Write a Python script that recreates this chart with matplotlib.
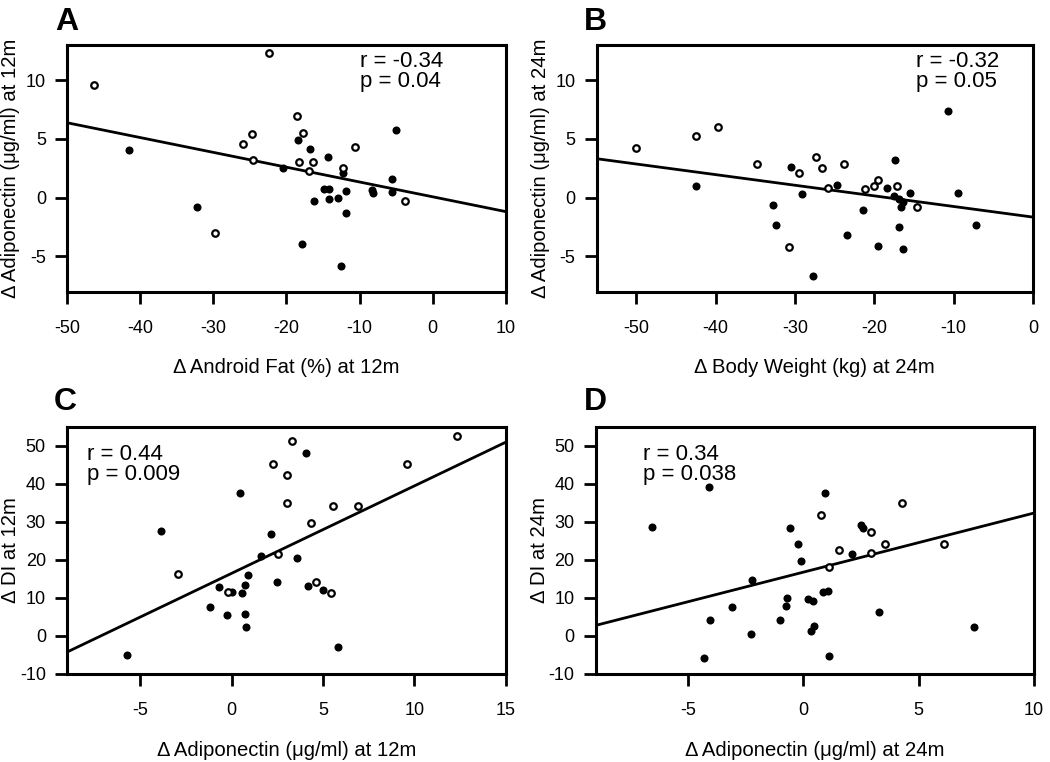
import matplotlib
matplotlib.use("Agg")
import matplotlib.pyplot as plt
import numpy as np

plt.rcParams['font.family'] = ['Liberation Sans', 'DejaVu Sans']
plt.rcParams['axes.unicode_minus'] = False

# ---------------- Panel A ----------------
a_open_x = [-46.35, -22.4, -25.9, -24.7, -24.6, -29.8, -18.5, -17.76, -10.6, -18.3, -16.4, -16.9, -12.2, -3.76]
a_open_y = [9.56, 12.28, 4.56, 5.39, 3.2, -3.0, 6.92, 5.53, 4.31, 3.03, 3.03, 2.26, 2.55, -0.29]
a_fill_x = [-41.5, -32.2, -18.4, -16.8, -14.3, -5.08, -20.45, -12.2, -14.8, -14.2, -11.9, -8.3, -8.2,
            -5.5, -5.5, -16.25, -14.2, -12.9, -11.9, -17.85, -12.55]
a_fill_y = [4.03, -0.8, 4.94, 4.14, 3.51, 5.79, 2.49, 2.13, 0.77, 0.73, 0.54, 0.62, 0.43,
            1.56, 0.48, -0.29, -0.12, -0.06, -1.28, -3.97, -5.79]
a_fit = (0.08, -0.126)  # intercept, slope

# ---------------- Panel B ----------------
b_open_x = [-50.0, -42.5, -39.7, -34.8, -29.5, -30.7, -27.35, -26.55, -23.8, -25.9, -21.2, -20.1, -19.6, -17.2, -14.6]
b_open_y = [4.26, 5.22, 6.01, 2.89, 2.1, -4.17, 3.49, 2.49, 2.89, 0.85, 0.71, 0.99, 1.5, 0.99, -0.8]
b_fill_x = [-42.45, -30.5, -29.1, -32.8, -32.35, -24.7, -17.35, -10.75, -18.4, -17.5, -16.9, -16.4,
            -15.5, -16.7, -9.5, -21.4, -7.2, -23.4, -16.9, -19.6, -16.4, -27.7]
b_fill_y = [0.99, 2.58, 0.28, -0.6, -2.33, 1.05, 3.2, 7.37, 0.85, 0.14, -0.14, -0.34,
            0.39, -0.8, 0.39, -1.08, -2.36, -3.18, -2.5, -4.14, -4.4, -6.64]
b_fit = (-1.65, -0.0904)

# ---------------- Panel C ----------------
c_open_x = [-2.96, 2.26, 2.53, -0.19, 3.28, 3.04, 3.04, 5.54, 6.91, 9.58, 12.31, 4.32, 4.63, 5.42]
c_open_y = [16.4, 45.3, 21.6, 11.5, 51.2, 42.2, 35.0, 34.2, 34.2, 45.1, 52.5, 29.8, 14.3, 11.2]
c_fill_x = [-3.87, -5.72, 0.47, 2.15, 1.59, 0.91, 2.48, -0.70, 0.74, 0.0, 0.58, -1.21, -0.26,
            0.71, 0.78, 4.08, 3.59, 4.17, 4.98, 5.83]
c_fill_y = [27.5, -4.9, 37.7, 26.9, 21.1, 16.1, 14.2, 12.9, 13.3, 11.5, 11.4, 7.6, 5.6,
            5.9, 2.4, 48.2, 20.5, 13.2, 12.2, -2.9]
c_fit = (16.47, 2.297)

# ---------------- Panel D ----------------
d_open_x = [0.75, 4.30, 2.93, 3.56, 6.09, 1.54, 2.94, 1.09]
d_open_y = [31.7, 35.0, 27.4, 24.3, 24.3, 22.5, 21.8, 18.1]
d_fill_x = [-6.59, -4.11, -4.07, -4.32, -3.10, -2.23, -2.27, -0.56, -0.24, -0.11, -0.71, -0.75, -1.0,
            0.21, 0.31, 0.93, 2.52, 2.57, 2.13, 0.86, 1.06, 0.43, 3.28, 0.45, 7.41, 1.10]
d_fill_y = [28.6, 39.1, 4.3, -5.8, 7.6, 14.6, 0.6, 28.4, 24.1, 19.8, 10.1, 7.8, 4.3,
            9.6, 1.3, 37.7, 29.1, 28.5, 21.5, 11.5, 11.7, 9.2, 6.3, 2.5, 2.4, -5.2]
d_fit = (16.77, 1.553)

panel_letters = ['A', 'B', 'C', 'D']
stat_texts = [('r = -0.34', 'p = 0.04'), ('r = -0.32', 'p = 0.05'),
              ('r = 0.44', 'p = 0.009'), ('r = 0.34', 'p = 0.038')]
xlabels = ['\u0394 Android Fat (%) at 12m', '\u0394 Body Weight (kg) at 24m',
           '\u0394 Adiponectin (\u03bcg/ml) at 12m', '\u0394 Adiponectin (\u03bcg/ml) at 24m']
ylabels = ['\u0394 Adiponectin (\u03bcg/ml) at 12m', '\u0394 Adiponectin (\u03bcg/ml) at 24m',
           '\u0394 DI at 12m', '\u0394 DI at 24m']
xticks = [[-50, -40, -30, -20, -10, 0, 10], [-50, -40, -30, -20, -10, 0],
          [-5, 0, 5, 10, 15], [-5, 0, 5, 10]]
yticks = [[-5, 0, 5, 10], [-5, 0, 5, 10],
          [-10, 0, 10, 20, 30, 40, 50], [-10, 0, 10, 20, 30, 40, 50]]
xlims = [(-50, 10), (-55, 0), (-9, 15), (-9, 10)]
ylims = [(-8, 13), (-8, 13), (-10, 55), (-10, 55)]

opens = [(a_open_x, a_open_y), (b_open_x, b_open_y), (c_open_x, c_open_y), (d_open_x, d_open_y)]
fills = [(a_fill_x, a_fill_y), (b_fill_x, b_fill_y), (c_fill_x, c_fill_y), (d_fill_x, d_fill_y)]
fits = [a_fit, b_fit, c_fit, d_fit]

positions = [[0.0641, 0.6172, 0.4175, 0.3237],
             [0.5683, 0.6172, 0.4155, 0.3237],
             [0.0641, 0.1155, 0.4175, 0.3245],
             [0.5676, 0.1155, 0.4170, 0.3245]]
text_x = [0.668, 0.732, 0.044, 0.108]
text_y = [(0.912, 0.831), (0.912, 0.831), (0.865, 0.784), (0.865, 0.784)]
letter_pos = [(0.053, 0.9606), (0.556, 0.9606), (0.051, 0.462), (0.556, 0.462)]

fig = plt.figure(figsize=(10.5, 7.62), dpi=100)

for i in range(4):
    ax = fig.add_axes(positions[i])
    ax.set_xlim(*xlims[i])
    ax.set_ylim(*ylims[i])
    b, m = fits[i]
    ax.axline((0, b), slope=m, color='black', lw=2.0, zorder=2)
    fx, fy = fills[i]
    ax.plot(fx, fy, 'o', color='black', ms=5.8, mew=0, zorder=3)
    ox, oy = opens[i]
    ax.plot(ox, oy, 'o', mfc='white', mec='black', ms=4.7, mew=1.6, zorder=4)
    ax.set_xticks(xticks[i])
    ax.set_yticks(yticks[i])
    ax.tick_params(direction='out', length=8.4, width=2.0, labelsize=13)
    ax.tick_params(axis='x', pad=12)
    ax.tick_params(axis='y', pad=7)
    for sp in ax.spines.values():
        sp.set_linewidth(2.2)
    ax.set_xlabel(xlabels[i], fontsize=14.6)
    ax.set_ylabel(ylabels[i], fontsize=14.6)
    ax.xaxis.set_label_coords(0.5, -0.27)
    ax.yaxis.set_label_coords(-0.108, 0.5)
    t1, t2 = stat_texts[i]
    ax.text(text_x[i], text_y[i][0], t1, transform=ax.transAxes, fontsize=16, va='baseline', ha='left')
    ax.text(text_x[i], text_y[i][1], t2, transform=ax.transAxes, fontsize=16, va='baseline', ha='left')
    fig.text(letter_pos[i][0], letter_pos[i][1], panel_letters[i], fontsize=23, fontweight='bold',
             va='baseline', ha='left')

fig.savefig('out.png', dpi=100)
